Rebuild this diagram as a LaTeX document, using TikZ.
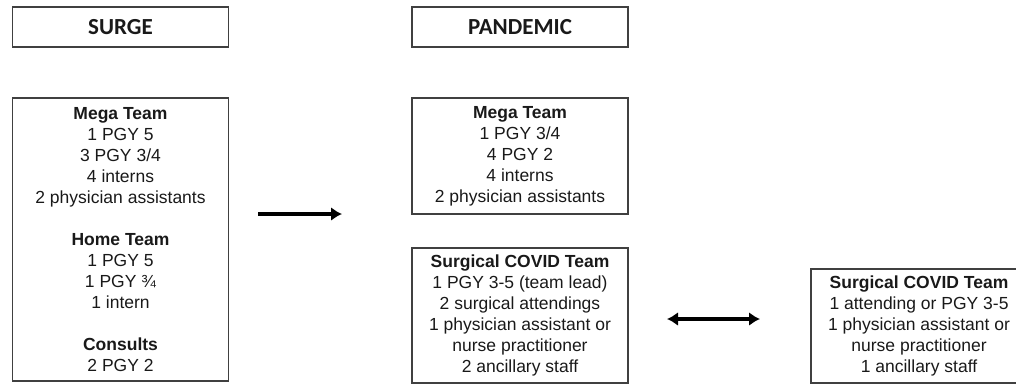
\documentclass[tikz,border=0pt]{standalone}
\usepackage{fontspec}
\setmainfont{Liberation Sans}
\newfontfamily\titlefont{Carlito}
\usetikzlibrary{arrows.meta, positioning}

\begin{document}
\begin{tikzpicture}[
      x=1pt, y=-1pt,
      team/.style={draw=black!75, line width=1.4pt, minimum width=216pt,
        align=center, inner sep=0pt, text=black!90,
        font=\fontsize{17.5}{21}\selectfont},
      header/.style={team, minimum height=40pt,
        font=\titlefont\bfseries\fontsize{23}{27}\selectfont},
      move/.style={line width=3.8pt, -{Latex[length=11pt,width=14pt]}},
      swap/.style={line width=3.8pt, {Latex[length=11pt,width=14pt]}-{Latex[length=11pt,width=14pt]}}
    ]
    \useasboundingbox (0,0) rectangle (1016,384);
    % column headers
    \node[header] (surge) at (120.5,27) {SURGE};
    \node[header] (pandemic) at (520,27) {PANDEMIC};
    % surge teams
    \node[team, minimum height=283pt] (surgeteams) at (120.5,239.5) {%
      \textbf{Mega Team}\\ 1 PGY 5\\ 3 PGY 3/4\\ 4 interns\\ 2 physician assistants\\[21pt]
      \textbf{Home Team}\\ 1 PGY 5\\ 1 PGY ¾\\ 1 intern\\[21pt]
      \textbf{Consults}\\ 2 PGY 2};
    % pandemic teams
    \node[team, minimum height=116pt] (mega) at (520,156) {%
      \textbf{Mega Team}\\ 1 PGY 3/4\\ 4 PGY 2\\ 4 interns\\ 2 physician assistants};
    \node[team, minimum height=135pt] (covid) at (520,315.5) {%
      \textbf{Surgical COVID Team}\\ 1 PGY 3-5 (team lead)\\ 2 surgical attendings\\
      1 physician assistant or\\ nurse practitioner\\ 2 ancillary staff};
    \node[team, minimum height=114pt] (covidalt) at (919,326) {%
      \textbf{Surgical COVID Team}\\ 1 attending or PGY 3-5\\
      1 physician assistant or\\ nurse practitioner\\ 1 ancillary staff};
    % arrows
    \coordinate (movefrom) at (258,214);
    \coordinate (moveto) at (342,214);
    \coordinate (swapleft) at (667,319);
    \coordinate (swapright) at (760,319);
    \draw[move] (movefrom) -- (moveto);
    \draw[swap] (swapleft) -- (swapright);
\end{tikzpicture}
\end{document}
